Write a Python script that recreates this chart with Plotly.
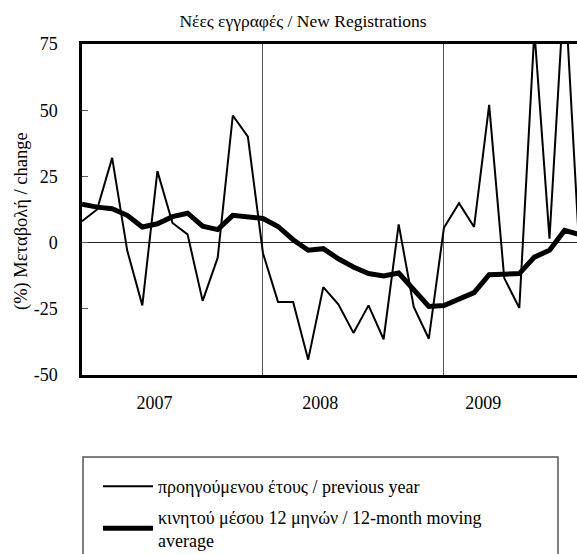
import plotly.graph_objects as go

# Monthly series, January 2007 onwards (percent change)
months = [
    "2007-01", "2007-02", "2007-03", "2007-04", "2007-05", "2007-06",
    "2007-07", "2007-08", "2007-09", "2007-10", "2007-11", "2007-12",
    "2008-01", "2008-02", "2008-03", "2008-04", "2008-05", "2008-06",
    "2008-07", "2008-08", "2008-09", "2008-10", "2008-11", "2008-12",
    "2009-01", "2009-02", "2009-03", "2009-04", "2009-05", "2009-06",
    "2009-07", "2009-08", "2009-09", "2009-10",
]
yoy_change = [
    8.1, 12.5, 32.0, -3.0, -23.7, 27.0, 7.4, 3.1, -22.0, -5.7, 48.0, 40.0,
    -4.0, -22.4, -22.4, -44.2, -16.8, -23.3, -34.1, -23.7, -36.5, 6.9, -24.3, -36.3,
    5.6, 14.9, 5.9, 52.0, -13.4, -24.7, 80.0, 1.5, 98.0, -5.0,
]
moving_avg_12m = [
    14.5, 13.4, 12.8, 10.3, 5.9, 7.1, 9.8, 11.1, 6.2, 4.9, 10.3, 9.9,
    9.1, 6.1, 1.1, -2.9, -2.3, -6.1, -9.2, -11.7, -12.6, -11.5, -17.8, -24.1,
    -23.8, -21.5, -18.9, -12.1, -12.0, -11.7, -5.5, -2.9, 4.6, 3.0,
]

year_labels = ["2007", "2008", "2009"]
year_label_pos = [4.8, 15.8, 26.6]
year_bounds = [12, 24]

y_ticks = [-50, -25, 0, 25, 50, 75]
y_ticktext = ["-50", "-25", "0", "25", "50", "75"]

x_idx = list(range(len(months)))

FONT = "Liberation Serif, Times New Roman, serif"
serif = lambda size: dict(family=FONT, size=size, color="black")

# plot-area geometry in pixels
PL, PR, PT, PB = 82, 577, 44, 375
pw, ph = PR - PL, PB - PT

fig = go.Figure()
fig.add_trace(go.Scatter(
    x=x_idx, y=yoy_change, mode="lines",
    line=dict(color="black", width=2),
    name="προηγούμενου έτους / previous year",
    legendgroup="a", customdata=months,
    hovertemplate="%{customdata}: %{y:.1f}%<extra></extra>",
))
fig.add_trace(go.Scatter(
    x=x_idx, y=moving_avg_12m, mode="lines",
    line=dict(color="black", width=5),
    name="κινητού μέσου 12 μηνών / 12-month moving<br>average",
    legendgroup="b", customdata=months,
    hovertemplate="%{customdata}: %{y:.1f}%<extra></extra>",
))

fig.update_layout(
    width=577, height=554,
    margin=dict(l=PL, r=577 - PR, t=PT, b=554 - PB, autoexpand=False),
    paper_bgcolor="white", plot_bgcolor="white",
    font=serif(18),
    title=dict(text="Νέες εγγραφές / New Registrations",
               x=303 / 577, xref="container", xanchor="center",
               y=1 - 21 / 554, yref="container", yanchor="middle",
               font=serif(17.5)),
    showlegend=True,
    legend=dict(
        xref="container", yref="container",
        x=98 / 577, y=1 - 468 / 554, xanchor="left", yanchor="top",
        bgcolor="rgba(0,0,0,0)", borderwidth=0,
        traceorder="grouped", tracegroupgap=4, itemwidth=50,
        font=serif(18),
    ),
    xaxis=dict(
        range=[0, pw / 15.08],
        tickmode="array", tickvals=year_label_pos, ticktext=year_labels,
        ticks="", showgrid=False, zeroline=False,
        showline=True, linecolor="black", linewidth=2.5, mirror=True,
        ticklabelstandoff=10,
        minor=dict(tickmode="array", tickvals=year_bounds, showgrid=True,
                   gridcolor="#555555", gridwidth=1, ticks=""),
        tickfont=serif(18),
    ),
    yaxis=dict(
        range=[-50, 75],
        tickmode="array", tickvals=y_ticks, ticktext=y_ticktext,
        ticks="inside", ticklen=6, tickwidth=1, tickcolor="#555555",
        showgrid=False, zeroline=True, zerolinecolor="#222222", zerolinewidth=1,
        showline=True, linecolor="black", linewidth=2.5,
        ticklabelstandoff=18,
        tickfont=serif(18),
    ),
    annotations=[dict(text="(%) Μεταβολή / change", textangle=-90,
                      xref="paper", yref="paper",
                      x=(21 - PL) / pw, y=(PB - 221) / ph,
                      xanchor="center", yanchor="middle",
                      showarrow=False, font=serif(18.5))],
    shapes=[dict(type="rect", xref="paper", yref="paper",
                 x0=(83 - PL) / pw, x1=(558 - PL) / pw,
                 y0=(PB - 600) / ph, y1=(PB - 457) / ph,
                 line=dict(color="#555555", width=1.5), fillcolor="rgba(0,0,0,0)",
                 layer="above")],
)

fig.write_html("out.html")
